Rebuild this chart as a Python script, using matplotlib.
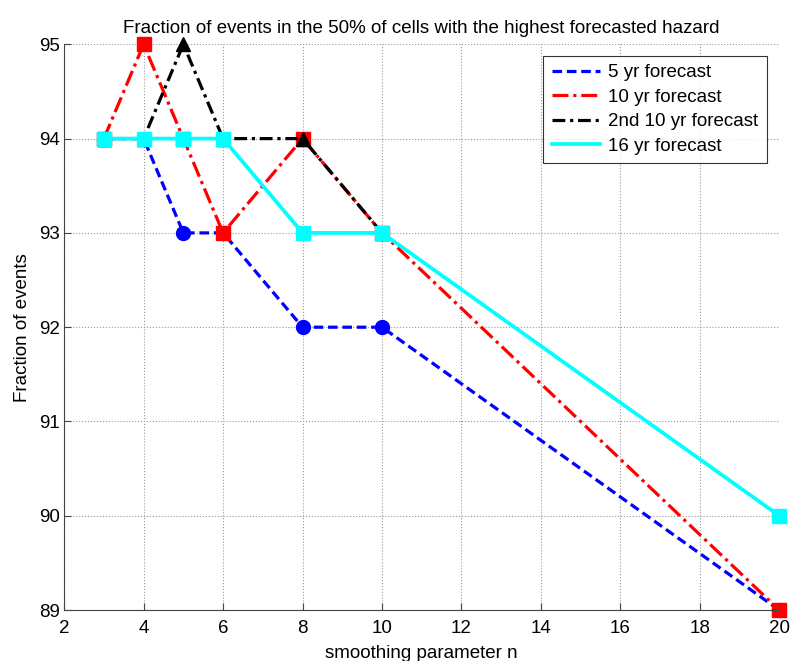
#! /usr/bin/env python3
import matplotlib
matplotlib.use("Agg")
import matplotlib.pyplot as plt

plt.rcParams['font.family'] = ['Liberation Sans', 'DejaVu Sans']

n_vals = [3, 4, 5, 6, 8, 10, 20]
n_black = [3, 4, 5, 6, 8, 10]

frac_5yr = [94, 94, 93, 93, 92, 92, 89]
frac_10yr = [94, 95, 94, 93, 94, 93, 89]
frac_2nd10yr = [94, 94, 95, 94, 94, 93]
frac_16yr = [94, 94, 94, 94, 93, 93, 90]

labels = ['5 yr forecast', '10 yr forecast', '2nd 10 yr forecast', '16 yr forecast']
xticks = [2, 4, 6, 8, 10, 12, 14, 16, 18, 20]
yticks = [89, 90, 91, 92, 93, 94, 95]

fig = plt.figure(figsize=(7.92, 6.61), dpi=100)
ax = fig.add_axes([0.081, 0.077, 0.903, 0.856])

lw = 2.3
ax.plot(n_vals, frac_5yr, color='blue', ls=(0, (3, 1.5)), lw=lw,
        marker='o', ms=10, label=labels[0], clip_on=False)
ax.plot(n_vals, frac_10yr, color='red', ls=(0, (5, 1.5, 1, 1.5)), lw=lw,
        marker='s', ms=10, label=labels[1], clip_on=False)
ax.plot(n_black, frac_2nd10yr, color='black', ls=(0, (4, 1.5, 1, 1.5)), lw=lw,
        marker='^', ms=10.5, label=labels[2], clip_on=False)
ax.plot(n_vals, frac_16yr, color='cyan', ls='-', lw=lw + 0.4,
        marker='s', ms=10, label=labels[3], clip_on=False)

ax.set_xlim(2, 20)
ax.set_ylim(89, 95)
ax.set_xticks(xticks)
ax.set_yticks(yticks)
ax.tick_params(labelsize=13.5, direction='in', length=5, color='#444444')
ax.tick_params(axis='x', pad=7)
ax.tick_params(axis='y', pad=3)
ax.grid(True, ls=':', color='#999999', lw=0.8)
ax.spines['top'].set_visible(False)
ax.spines['right'].set_visible(False)
for s in ('left', 'bottom'):
    ax.spines[s].set_color('#444444')

ax.set_xlabel('smoothing parameter n', fontsize=13.5, labelpad=6)
ax.set_ylabel('Fraction of events', fontsize=13.5, labelpad=6)
ax.set_title('Fraction of events in the 50% of cells with the highest forecasted hazard',
             fontsize=13.5, pad=8)

leg = ax.legend(loc='upper right', bbox_to_anchor=(0.99, 0.99), fontsize=13.5,
                handlelength=2.6, frameon=True, fancybox=False, borderpad=0.45,
                labelspacing=0.4, handletextpad=0.4, borderaxespad=0.3)
leg.get_frame().set_edgecolor('black')
leg.get_frame().set_linewidth(0.8)
for h in leg.legend_handles:
    h.set_marker('')

fig.savefig('out.png', dpi=100)
